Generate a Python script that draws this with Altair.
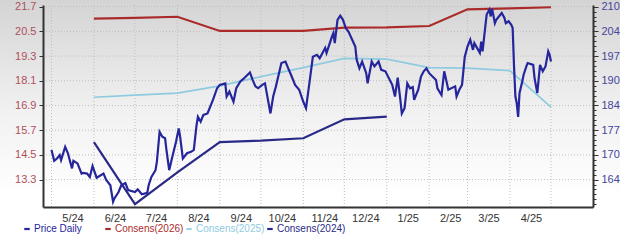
import altair as alt
import numpy as np
import pandas as pd

# ---------------- data ----------------
price_dates = [
    "2024-05-01", "2024-05-03", "2024-05-05", "2024-05-07", "2024-05-08", "2024-05-11", "2024-05-13",
    "2024-05-14", "2024-05-16", "2024-05-17", "2024-05-20", "2024-05-23", "2024-05-24", "2024-05-27",
    "2024-05-29", "2024-05-31", "2024-06-03", "2024-06-08", "2024-06-10", "2024-06-13", "2024-06-15",
    "2024-06-16", "2024-06-19", "2024-06-21", "2024-06-24", "2024-06-26", "2024-07-01", "2024-07-03",
    "2024-07-06", "2024-07-10", "2024-07-11", "2024-07-13", "2024-07-16", "2024-07-17", "2024-07-19",
    "2024-07-21", "2024-07-23", "2024-07-24", "2024-07-26", "2024-07-28", "2024-07-31", "2024-08-02",
    "2024-08-03", "2024-08-05", "2024-08-08", "2024-08-11", "2024-08-13", "2024-08-15", "2024-08-16",
    "2024-08-18", "2024-08-20", "2024-08-23", "2024-08-27", "2024-08-30", "2024-09-01", "2024-09-05",
    "2024-09-06", "2024-09-08", "2024-09-11", "2024-09-13", "2024-09-16", "2024-09-18", "2024-09-23",
    "2024-09-25", "2024-09-27", "2024-09-29", "2024-10-02", "2024-10-04", "2024-10-08", "2024-10-10",
    "2024-10-12", "2024-10-16", "2024-10-19", "2024-10-21", "2024-10-23", "2024-10-26", "2024-10-29",
    "2024-11-01", "2024-11-03", "2024-11-06", "2024-11-08", "2024-11-11", "2024-11-13", "2024-11-17",
    "2024-11-18", "2024-11-22", "2024-11-23", "2024-11-24", "2024-11-26", "2024-11-28", "2024-11-30",
    "2024-12-02", "2024-12-04", "2024-12-09", "2024-12-10", "2024-12-12", "2024-12-14", "2024-12-17",
    "2024-12-18", "2024-12-21", "2024-12-23", "2024-12-26", "2024-12-28", "2024-12-31", "2025-01-05",
    "2025-01-07", "2025-01-09", "2025-01-11", "2025-01-12", "2025-01-14", "2025-01-16", "2025-01-18",
    "2025-01-20", "2025-01-21", "2025-01-24", "2025-01-26", "2025-01-28", "2025-01-30", "2025-02-01",
    "2025-02-06", "2025-02-07", "2025-02-10", "2025-02-12", "2025-02-15", "2025-02-20", "2025-02-21",
    "2025-02-23", "2025-02-25", "2025-02-27", "2025-03-01", "2025-03-03", "2025-03-05", "2025-03-06",
    "2025-03-10", "2025-03-11", "2025-03-12", "2025-03-14", "2025-03-15", "2025-03-17", "2025-03-18",
    "2025-03-19", "2025-03-21", "2025-03-22", "2025-03-26", "2025-03-28", "2025-03-29", "2025-03-31",
    "2025-04-02", "2025-04-03", "2025-04-04", "2025-04-05", "2025-04-06", "2025-04-07", "2025-04-08",
    "2025-04-10", "2025-04-11", "2025-04-13", "2025-04-14", "2025-04-18", "2025-04-19", "2025-04-21",
    "2025-04-23", "2025-04-25", "2025-04-27", "2025-04-29", "2025-04-30", "2025-05-01",
]
price_values = [
    171.9, 169.0, 169.6, 170.5, 169.2, 172.7, 171.0,
    169.6, 167.0, 169.0, 168.3, 165.6, 165.8, 165.6,
    164.7, 167.6, 164.5, 165.6, 163.9, 162.5, 158.1,
    159.0, 160.7, 162.5, 163.1, 161.2, 160.7, 161.4,
    160.1, 160.5, 162.5, 164.7, 166.5, 168.7, 176.7,
    175.4, 175.0, 171.9, 166.5, 169.6, 174.1, 177.6,
    175.4, 169.6, 171.0, 171.4, 171.9, 178.5, 180.7,
    179.4, 181.2, 181.6, 185.2, 188.3, 189.2, 189.6,
    186.1, 187.4, 184.7, 188.3, 190.1, 190.7, 192.5,
    190.5, 188.8, 188.3, 189.2, 189.6, 181.6, 186.1,
    188.8, 195.0, 195.4, 193.6, 191.9, 189.2, 187.9,
    184.7, 183.0, 191.1, 196.7, 197.2, 196.3, 199.0,
    197.7, 202.1, 203.0, 200.3, 206.5, 207.6, 206.5,
    204.3, 203.4, 199.4, 195.9, 193.6, 195.4, 192.3,
    189.6, 195.4, 194.1, 195.4, 193.2, 192.8, 189.2,
    186.1, 191.1, 185.0, 181.6, 183.0, 189.6, 188.3,
    188.6, 185.2, 187.9, 191.4, 192.8, 193.6, 192.3,
    190.5, 188.3, 186.5, 192.8, 187.9, 188.8, 186.1,
    187.9, 189.2, 196.7, 199.4, 201.2, 198.5, 200.3,
    197.7, 200.7, 198.1, 204.7, 207.9, 209.2, 207.4,
    209.4, 205.6, 206.5, 208.3, 207.0, 205.6, 206.1,
    205.2, 204.3, 194.1, 186.1, 184.3, 180.7, 187.0,
    190.1, 191.9, 194.1, 195.0, 194.5, 191.0, 187.0,
    194.5, 192.8, 194.1, 198.1, 197.2, 195.4,
]

consens_dates = [
    "2024-06-01", "2024-07-01", "2024-08-01", "2024-09-01", "2024-10-01", "2024-11-01",
    "2024-12-01", "2025-01-01", "2025-02-01", "2025-03-01", "2025-04-01", "2025-05-01",
]
consens_2026 = [21.12, 21.15, 21.21, 20.52, 20.52, 20.52, 20.68, 20.69, 20.76, 21.57, 21.62, 21.67]
consens_2025 = [17.30, 17.40, 17.50, 17.85, 18.30, 18.74, 19.19, 19.15, 18.74, 18.71, 18.59, 16.82]
consens_2024 = [15.12, 12.11, 13.65, 15.12, 15.19, 15.31, 16.23, 16.36]

left_ticks = [13.3, 14.5, 15.7, 16.9, 18.1, 19.3, 20.5, 21.7]
right_tick_labels = ["164", "170", "177", "184", "190", "197", "204", "210"]
month_labels = ["5/24", "6/24", "7/24", "8/24", "9/24", "10/24", "11/24", "12/24",
                "1/25", "2/25", "3/25", "4/25", ""]

series_names = ["Price Daily", "Consens(2026)", "Consens(2025)", "Consens(2024)"]
series_colors = ["#25259c", "#ab2b2b", "#8fcbe0", "#2a2a86"]
series_widths = [2.2, 2.2, 1.7, 2.2]

# ---------------- tables ----------------
price_df = pd.DataFrame({"date": price_dates, "price": price_values, "series": "Price Daily"})
cons_rows = []
for name, vals in [("Consens(2026)", consens_2026), ("Consens(2025)", consens_2025),
                   ("Consens(2024)", consens_2024)]:
    for d, v in zip(consens_dates, vals):
        cons_rows.append({"date": d, "eps": v, "series": name})
cons_df = pd.DataFrame(cons_rows)

month_starts = pd.date_range("2024-05-01", "2025-05-01", freq="MS", tz="UTC")
month_ticks = [int(t.value // 10**6) for t in month_starts]
vgrid_df = pd.DataFrame({"date": month_ticks})
hgrid_df = pd.DataFrame({"eps": left_ticks})

# ---------------- scales ----------------
EPS_LO, EPS_HI = 11.97, 21.78
slope = (210.0 - 164.0) / (21.7 - 13.3)


def to_price(e):
    return 164.0 + (e - 13.3) * slope


price_domain = [to_price(EPS_LO), to_price(EPS_HI)]
right_major = [to_price(v) for v in left_ticks]
step = (right_major[1] - right_major[0]) / 5.0
right_all = []
v = right_major[0]
while v > price_domain[0]:
    right_all.append(v)
    v -= step
v = right_major[0] + step
while v < price_domain[1]:
    right_all.append(v)
    v += step
right_all = sorted(right_all)

right_label_expr = "".join(
    f"abs(datum.value - {m:.4f}) < 0.05 ? '{lab}' : " for m, lab in zip(right_major, right_tick_labels)
) + "''"
right_major_test = " || ".join(f"abs(datum.value - {m:.4f}) < 0.05" for m in right_major)

x_label_expr = "".join(
    f"abs(time(datum.value) - {ms}) < 3600000 ? '{lab}' : " for ms, lab in zip(month_ticks, month_labels)
) + "''"
x_domain = [int(pd.Timestamp("2024-04-24T19:00", tz="UTC").value // 10**6),
            int(pd.Timestamp("2025-05-31T17:00", tz="UTC").value // 10**6)]

FONT = "Liberation Sans"
GRID = "#bfbfbf"
AXIS = "#333333"

x_enc = alt.X(
    "date:T",
    scale=alt.Scale(type="utc", domain=x_domain),
    axis=alt.Axis(values=month_ticks, labelExpr=x_label_expr, labelOffset=21, ticks=False,
                  grid=False, domainColor=AXIS, domainWidth=2, labelColor=AXIS, labelPadding=5,
                  title=None, labelFlush=False, labelOverlap=False, labelFont=FONT,
                  labelFontSize=11, zindex=1),
)
eps_scale = alt.Scale(domain=[EPS_LO, EPS_HI], nice=False, zero=False)

legend = alt.Legend(
    title=None, orient="none", legendX=-21, legendY=219, direction="horizontal", columns=4,
    gridAlign="all", columnPadding=-3, symbolType="stroke", symbolSize=30, symbolStrokeWidth=3,
    labelOffset=2, labelFontSize=10, labelFont=FONT, padding=0,
    labelColor={"expr": "scale('color', datum.value)"},
)
color_enc = alt.Color("series:N", scale=alt.Scale(domain=series_names, range=series_colors),
                      legend=legend)
width_enc = alt.StrokeWidth("series:N",
                            scale=alt.Scale(type="ordinal", domain=series_names, range=series_widths),
                            legend=None)

bg = alt.Chart(pd.DataFrame({"a": [0]})).mark_rect(
    fill=alt.LinearGradient(
        gradient="linear",
        stops=[alt.GradientStop(color="#d4d4d4", offset=0),
               alt.GradientStop(color="#f1f1f1", offset=0.45),
               alt.GradientStop(color="#ffffff", offset=0.8)],
        x1=0, x2=0, y1=0, y2=1),
).encode(x=alt.value(-43), x2=alt.value(577), y=alt.value(-5), y2=alt.value(241))

vgrid = alt.Chart(vgrid_df).mark_rule(color=GRID, strokeDash=[1, 2], strokeWidth=1).encode(
    x=x_enc)
hgrid = alt.Chart(hgrid_df).mark_rule(color=GRID, strokeDash=[1, 2], strokeWidth=1).encode(
    y=alt.Y("eps:Q", scale=eps_scale, axis=None))

cons = alt.Chart(cons_df).mark_line().encode(
    x=x_enc,
    y=alt.Y("eps:Q", scale=eps_scale,
            axis=alt.Axis(orient="left", values=left_ticks, format=".1f", grid=False,
                          tickSize=4, tickColor=AXIS, domainColor=AXIS, domainWidth=2,
                          labelColor="#b0505a", labelPadding=3, title=None, labelOverlap=False,
                          labelFlush=False, labelFont=FONT, labelFontSize=11, zindex=1)),
    color=color_enc,
    strokeWidth=width_enc,
)

price = alt.Chart(price_df).mark_line().encode(
    x=x_enc,
    y=alt.Y("price:Q", scale=alt.Scale(domain=price_domain, nice=False, zero=False),
            axis=alt.Axis(orient="right", values=right_all, labelExpr=right_label_expr,
                          grid=False,
                          tickSize={"condition": {"test": right_major_test, "value": 5}, "value": 3},
                          tickColor=AXIS, domainColor=AXIS, domainWidth=2,
                          labelColor="#45459c", labelPadding=3, title=None, labelOverlap=False,
                          labelFlush=False, labelFont=FONT, labelFontSize=11, zindex=1)),
    color=color_enc,
    strokeWidth=width_enc,
)

chart = alt.layer(bg, vgrid, hgrid, cons, price).resolve_scale(y="independent").properties(
    width=550, height=202,
    autosize=alt.AutoSizeParams(type="none"),
    padding={"left": 43, "top": 5, "right": 27, "bottom": 39},
).configure_view(stroke=None)

chart.save("out.html", embed_options={"renderer": "svg", "actions": False})
